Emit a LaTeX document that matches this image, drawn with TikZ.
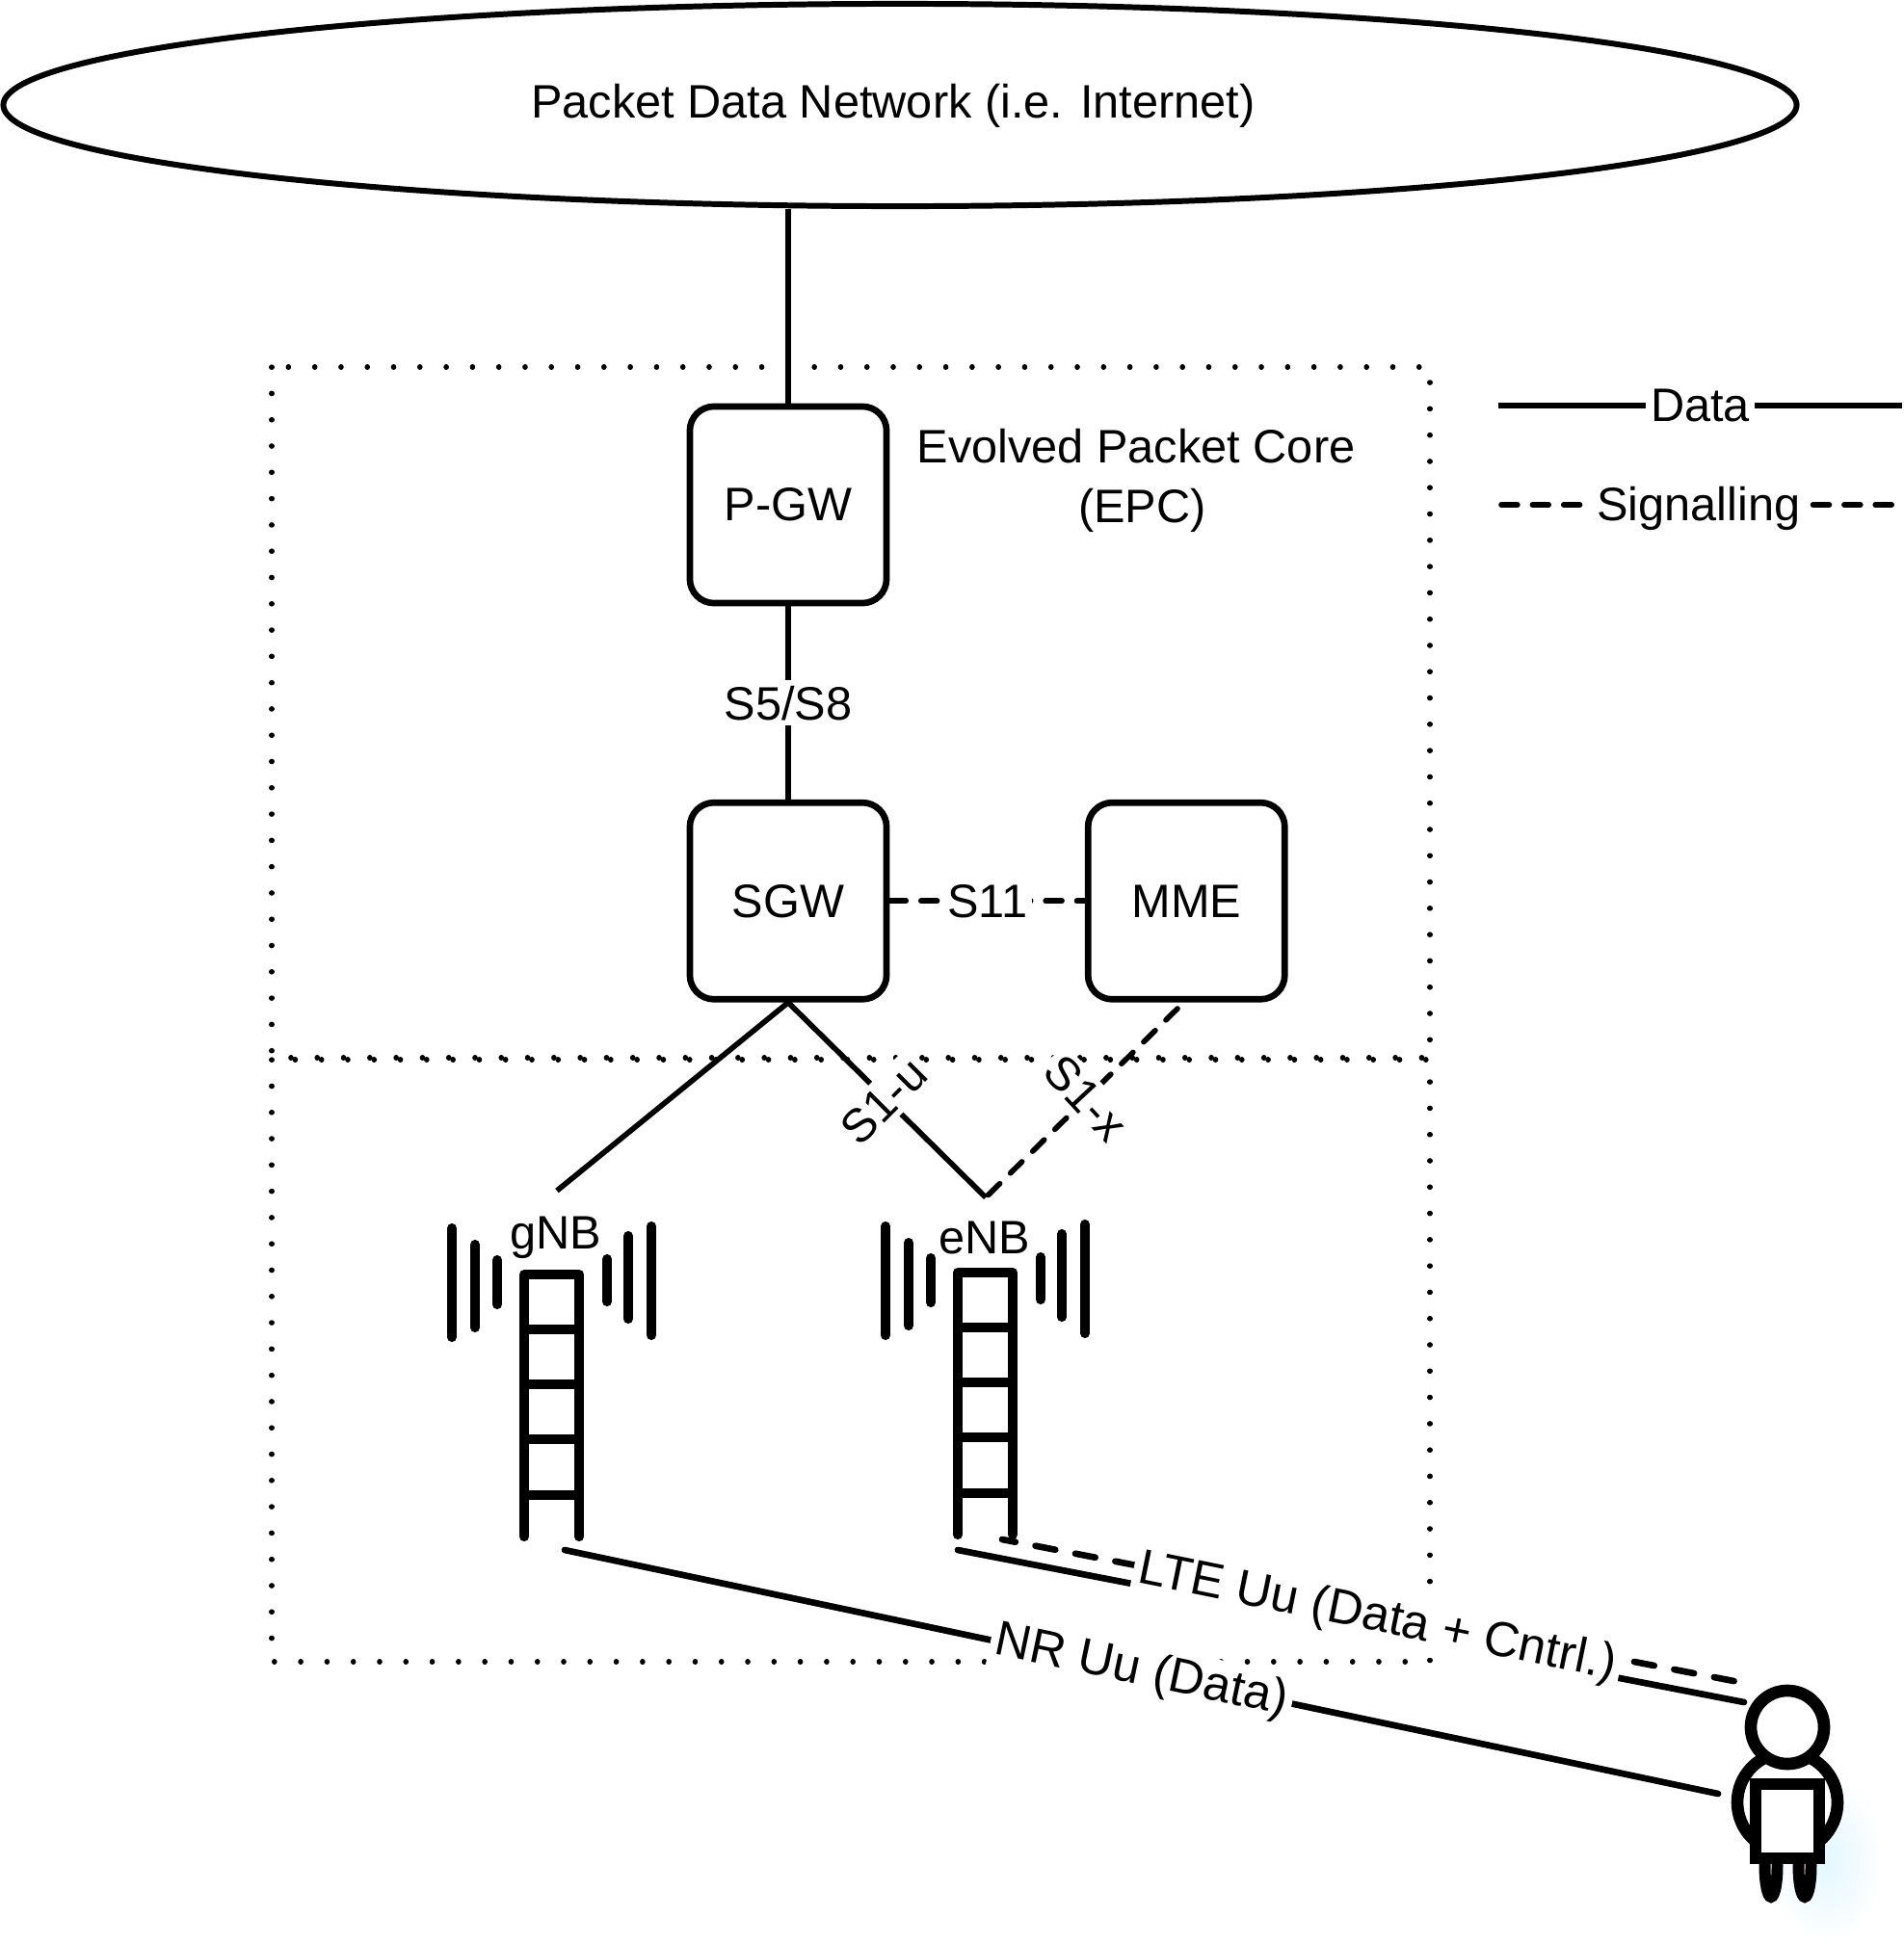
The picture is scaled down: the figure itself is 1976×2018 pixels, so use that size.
\documentclass[tikz,border=0pt]{standalone}
\usepackage{fontspec}
\setmainfont{Liberation Sans}
\usetikzlibrary{shapes.geometric}

\begin{document}
\begin{tikzpicture}[x=0.01cm,y=-0.01cm,node distance=4.11cm,line width=1.6pt,
                    font=\fontsize{13.85}{17.6}\selectfont,
                    main node/.style={rectangle,draw,rounded corners=0.25cm,line width=1.9pt,
                                      minimum width=2.04cm,minimum height=2.04cm,inner sep=0pt},
                    net node/.style={ellipse,draw,line width=1.7pt,minimum width=18.6cm,
                                     minimum height=2.1cm,inner sep=0pt},
                    area/.style={line width=1.5pt,line cap=round,dash pattern=on 0.1pt off 7.66pt},
                    signal/.style={dash pattern=on 4.8pt off 4.4pt,line cap=round},
                    radio/.style={line width=1.9pt,line cap=round},
                    radio signal/.style={radio,dash pattern=on 6pt off 6pt},
                    lbl/.style={fill=white,inner sep=1.5pt},
                    big lbl/.style={lbl,font=\fontsize{14.5}{17.6}\selectfont},
                    mast/.style={line width=2.9pt,line cap=round,line join=round},
                    ue/.style={line width=3.6pt,fill=white}]
    \useasboundingbox (0,0) rectangle (1976,2018);

    % dotted areas
    \draw[area] (282,381) rectangle (1484,1098);
    \draw[area] (282,1100) rectangle (1484,1725);

    % network and core
    \node[net node] (NET) at (934,109) {};
    \node (NETtext) at (927,110) {Packet Data Network (i.e. Internet)};
    \node[main node] (PGW) at (818,524) {P-GW};
    \node[main node] (SGW) [below of=PGW] {SGW};
    \node[main node] (MME) [right of=SGW,node distance=4.13cm] {MME};
    \node (EPC) [align=center] at (1179,499) {Evolved Packet Core\\\hspace*{0.13cm}(EPC)};

    % towers
    \foreach \tx/\ty in {544/1323,994/1321} {
        \draw[mast] (\tx,\ty+272) -- (\tx,\ty) -- (\tx+57,\ty) -- (\tx+57,\ty+272);
        \foreach \r in {57,114,171,229}
            \draw[mast,line cap=butt] (\tx,\ty+\r) -- (\tx+57,\ty+\r);
        \foreach \bx/\ba/\bb in {-75/-48/65,-51/-31/55,-28/-15/31,86/-16/28,108/-40/46,132/-50/63}
            \draw[mast] (\tx+\bx,\ty+\ba) -- (\tx+\bx,\ty+\bb);
    }
    \node (gNB) at (577,1285) {gNB};
    \node (eNB) at (1022,1285) {eNB};

    % user
    \shade[inner color=blue!30!cyan!11,outer color=white] (1895,1930) ellipse [x radius=60,y radius=88];
    \draw[ue,line width=3.4pt] (1838,1937) ellipse [x radius=6.5,y radius=32];
    \draw[ue,line width=3.4pt] (1873,1937) ellipse [x radius=6.5,y radius=32];
    \draw[ue] (1855,1871) circle [radius=52];
    \draw[ue] (1822,1852) rectangle (1888,1929);
    \node[circle,draw,ue,minimum size=0.76cm,inner sep=0pt] (UE) at (1855,1793) {};

    % free ends
    \coordinate (gNBtop) at (578,1236);
    \coordinate (eNBtop) at (1023,1243);
    \coordinate (MMEend) at (1222,1047);
    \coordinate (gNBlink) at (586,1609);
    \coordinate (eNBdata) at (994,1609);
    \coordinate (eNBsig) at (1040,1598);
    \coordinate (UEnr) at (1783,1862);
    \coordinate (UEdata) at (1810,1767);
    \coordinate (UEsig) at (1820,1749);
    \coordinate (dataL) at (1555,421);
    \coordinate (dataR) at (1974,421);
    \coordinate (sigL) at (1558,524);
    \coordinate (sigR) at (1974,524);

    % links
    \path[draw] (PGW.north) edge (PGW.north |- NET.south)
        (PGW) edge node[lbl] {S5/S8} (SGW)
        (SGW) edge[signal] node[lbl] {S11} (MME)
        (SGW.south) edge (gNBtop)
                    edge (eNBtop)
        (MMEend) edge[signal] (eNBtop)
        (dataL) edge node[lbl] {Data} (dataR)
        (sigL) edge[signal] node[lbl,xshift=-0.03cm,yshift=-0.04cm] {Signalling} (sigR)
        (eNBdata) edge[radio] (UEdata)
        (eNBsig) edge[radio signal,dash phase=2pt] (UEsig)
        (gNBlink) edge[radio] node[big lbl,sloped] {NR Uu (Data)} (UEnr);
    \node[lbl,rotate=45] (S1u) at (917,1143) {S1-u};
    \node[lbl,rotate=-47] (S1x) at (1127,1140) {S1-x};
    \node[big lbl,rotate=-11.5] (LTE) at (1429,1680) {LTE Uu (Data + Cntrl.)};
\end{tikzpicture}
\end{document}
